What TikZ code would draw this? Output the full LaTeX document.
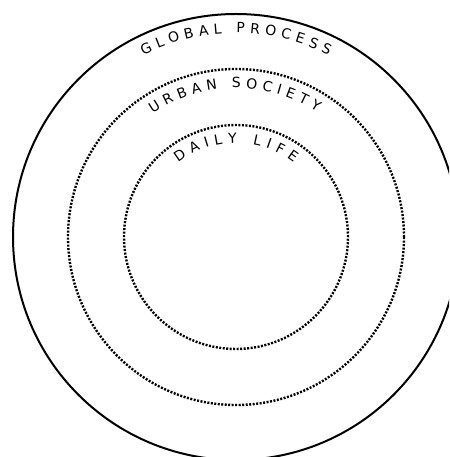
\documentclass[tikz,border=0pt]{standalone}
\usepackage{fontspec}
\newfontfamily\ringfont{DejaVu Sans}
\newcommand\ringtype{\ringfont\fontsize{14}{16}\selectfont}
\usetikzlibrary{decorations.text}
\definecolor{ringC}{HTML}{000000}
\tikzset{
  solidRing/.style={draw=ringC,line width=2pt},
  dotRing/.style={draw=ringC,line width=2.4pt,dash pattern=on 2pt off 1.5pt},
  ringLabel/.style={decorate,decoration={text along path,
    text align=fit to path,text={|\ringtype|#1}}},
}
\begin{document}
\begin{tikzpicture}[x=1pt,y=1pt]
\useasboundingbox (0,0) rectangle (449,457);
\clip (0,0) rectangle (449,457);
\coordinate (c) at (236,220);
% three rings
\draw[solidRing] (c) circle[radius=223];
\draw[dotRing] (c) circle[radius=168];
\draw[dotRing] (c) circle[radius=112];
% labels along the rings
\path[ringLabel=GLOBAL PROCESS] ([shift={(117:204)}]c) arc[start angle=117,end angle=63,radius=204];
\path[ringLabel=URBAN SOCIETY] ([shift={(124:149)}]c) arc[start angle=124,end angle=57,radius=149];
\path[ringLabel=DAILY LIFE] ([shift={(128:94)}]c) arc[start angle=128,end angle=52,radius=94];
\end{tikzpicture}
\end{document}
